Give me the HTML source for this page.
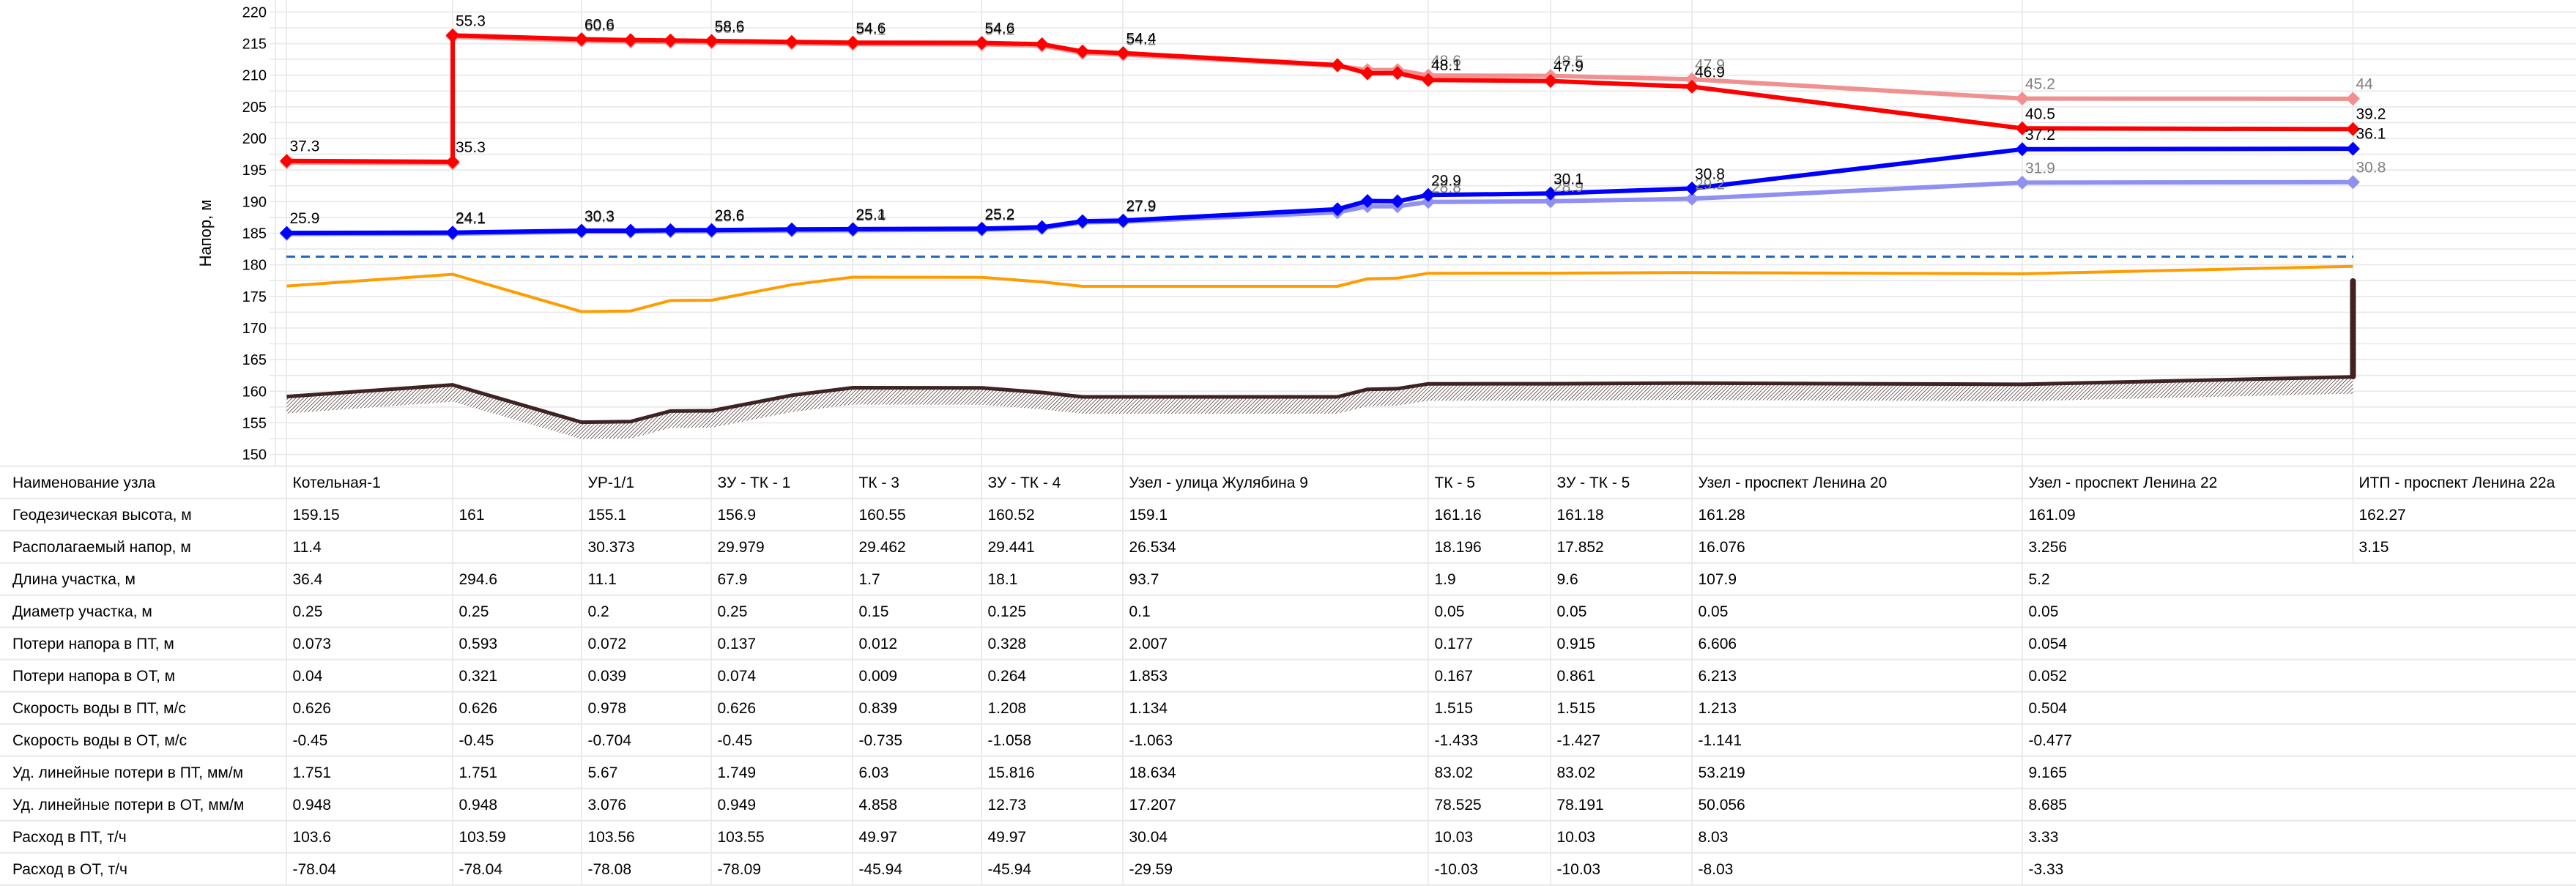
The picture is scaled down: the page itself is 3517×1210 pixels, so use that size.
<!DOCTYPE html>
<html>
<head>
<meta charset="utf-8">
<style>
html,body{margin:0;padding:0;background:#fff;}
svg{display:block;}
text{font-family:"Liberation Sans", Arial, "Noto Sans CJK SC", sans-serif;}
</style>
</head>
<body>
<svg width="3517" height="1210" viewBox="0 0 3517 1210" xmlns="http://www.w3.org/2000/svg">
<defs>
<pattern id="hatch" patternUnits="userSpaceOnUse" width="3.6" height="3.6" patternTransform="rotate(45)">
<rect width="3.6" height="3.6" fill="#ffffff"/>
<line x1="0" y1="0" x2="0" y2="3.6" stroke="#3d2222" stroke-width="1.4"/>
</pattern>
<marker id="mr" markerUnits="userSpaceOnUse" markerWidth="20" markerHeight="20" refX="10" refY="10"><path d="M10,0.5 L19.5,10 L10,19.5 L0.5,10 Z" fill="#ff0000"/></marker>
<marker id="mp" markerUnits="userSpaceOnUse" markerWidth="20" markerHeight="20" refX="10" refY="10"><path d="M10,0.5 L19.5,10 L10,19.5 L0.5,10 Z" fill="#f09090"/></marker>
<marker id="mb" markerUnits="userSpaceOnUse" markerWidth="20" markerHeight="20" refX="10" refY="10"><path d="M10,0.5 L19.5,10 L10,19.5 L0.5,10 Z" fill="#0000ff"/></marker>
<marker id="ml" markerUnits="userSpaceOnUse" markerWidth="20" markerHeight="20" refX="10" refY="10"><path d="M10,0.5 L19.5,10 L10,19.5 L0.5,10 Z" fill="#9090f0"/></marker>
</defs>

<!-- horizontal gridlines -->
<g stroke="#e8e8e8" stroke-width="1.6">
<line x1="368" y1="16.4" x2="3517" y2="16.4"/>
<line x1="368" y1="38.0" x2="3517" y2="38.0"/>
<line x1="368" y1="59.6" x2="3517" y2="59.6"/>
<line x1="368" y1="81.1" x2="3517" y2="81.1"/>
<line x1="368" y1="102.7" x2="3517" y2="102.7"/>
<line x1="368" y1="124.3" x2="3517" y2="124.3"/>
<line x1="368" y1="145.9" x2="3517" y2="145.9"/>
<line x1="368" y1="167.4" x2="3517" y2="167.4"/>
<line x1="368" y1="189.0" x2="3517" y2="189.0"/>
<line x1="368" y1="210.6" x2="3517" y2="210.6"/>
<line x1="368" y1="232.2" x2="3517" y2="232.2"/>
<line x1="368" y1="253.7" x2="3517" y2="253.7"/>
<line x1="368" y1="275.3" x2="3517" y2="275.3"/>
<line x1="368" y1="296.9" x2="3517" y2="296.9"/>
<line x1="368" y1="318.5" x2="3517" y2="318.5"/>
<line x1="368" y1="340.1" x2="3517" y2="340.1"/>
<line x1="368" y1="361.6" x2="3517" y2="361.6"/>
<line x1="368" y1="383.2" x2="3517" y2="383.2"/>
<line x1="368" y1="404.8" x2="3517" y2="404.8"/>
<line x1="368" y1="426.4" x2="3517" y2="426.4"/>
<line x1="368" y1="447.9" x2="3517" y2="447.9"/>
<line x1="368" y1="469.5" x2="3517" y2="469.5"/>
<line x1="368" y1="491.1" x2="3517" y2="491.1"/>
<line x1="368" y1="512.7" x2="3517" y2="512.7"/>
<line x1="368" y1="534.3" x2="3517" y2="534.3"/>
<line x1="368" y1="555.8" x2="3517" y2="555.8"/>
<line x1="368" y1="577.4" x2="3517" y2="577.4"/>
<line x1="368" y1="599.0" x2="3517" y2="599.0"/>
<line x1="368" y1="620.6" x2="3517" y2="620.6"/>
</g>

<!-- vertical gridlines / table separators -->
<g stroke="#e8e8e8" stroke-width="1.6">
<line x1="376" y1="0" x2="376" y2="637"/>
<line x1="391" y1="0" x2="391" y2="1209"/>
<line x1="618" y1="0" x2="618" y2="1209"/>
<line x1="794" y1="0" x2="794" y2="1209"/>
<line x1="971" y1="0" x2="971" y2="1209"/>
<line x1="1164" y1="0" x2="1164" y2="1209"/>
<line x1="1340" y1="0" x2="1340" y2="1209"/>
<line x1="1533" y1="0" x2="1533" y2="1209"/>
<line x1="1950" y1="0" x2="1950" y2="1209"/>
<line x1="2117" y1="0" x2="2117" y2="1209"/>
<line x1="2310" y1="0" x2="2310" y2="1209"/>
<line x1="2761" y1="0" x2="2761" y2="1209"/>
<line x1="3212.5" y1="0" x2="3212.5" y2="768.7"/>
</g>

<!-- table row lines -->
<g stroke="#e8e8e8" stroke-width="2">
<line x1="0" y1="636.7" x2="3517" y2="636.7"/>
<line x1="0" y1="680.7" x2="3517" y2="680.7"/>
<line x1="0" y1="724.7" x2="3517" y2="724.7"/>
<line x1="0" y1="768.7" x2="3517" y2="768.7"/>
<line x1="0" y1="812.7" x2="3517" y2="812.7"/>
<line x1="0" y1="856.7" x2="3517" y2="856.7"/>
<line x1="0" y1="900.7" x2="3517" y2="900.7"/>
<line x1="0" y1="944.7" x2="3517" y2="944.7"/>
<line x1="0" y1="988.7" x2="3517" y2="988.7"/>
<line x1="0" y1="1032.7" x2="3517" y2="1032.7"/>
<line x1="0" y1="1076.7" x2="3517" y2="1076.7"/>
<line x1="0" y1="1120.7" x2="3517" y2="1120.7"/>
<line x1="0" y1="1164.7" x2="3517" y2="1164.7"/>
<line x1="0" y1="1208.7" x2="3517" y2="1208.7"/>
</g>

<!-- y tick labels -->
<g font-size="20" fill="#000" text-anchor="end">
<text x="364" y="23.4">220</text>
<text x="364" y="66.6">215</text>
<text x="364" y="109.7">210</text>
<text x="364" y="152.9">205</text>
<text x="364" y="196.0">200</text>
<text x="364" y="239.2">195</text>
<text x="364" y="282.3">190</text>
<text x="364" y="325.5">185</text>
<text x="364" y="368.6">180</text>
<text x="364" y="411.8">175</text>
<text x="364" y="454.9">170</text>
<text x="364" y="498.1">165</text>
<text x="364" y="541.3">160</text>
<text x="364" y="584.4">155</text>
<text x="364" y="627.6">150</text>
</g>
<text transform="translate(288,318.5) rotate(-90)" text-anchor="middle" font-size="22" fill="#000">Напор, м</text>

<!-- ground hatch -->
<polygon fill="url(#hatch)" points="391.5,541.6 618,525.6 794,576.6 861,575.7 915.4,561.4 971.6,561 1081,539.8 1164.5,529.5 1340.5,529.8 1422.6,536 1478,542 1533.5,542 1826,542 1867,531.7 1908,530.8 1950,524.2 2117,524.1 2310,523.2 2761,524.9 3212.5,514.7 3212.5,537.7 2761,547.9 2310,546.2 2117,547.1 1950,547.2 1908,553.8 1867,554.7 1826,565 1533.5,565 1478,565 1422.6,559 1340.5,552.8 1164.5,552.5 1081,562.8 971.6,584 915.4,584.4 861,598.7 794,599.6 618,548.6 391.5,564.6"/>
<!-- ground line -->
<polyline fill="none" stroke="#3f2323" stroke-width="5" stroke-linejoin="round" points="391.5,541.6 618,525.6 794,576.6 861,575.7 915.4,561.4 971.6,561 1081,539.8 1164.5,529.5 1340.5,529.8 1422.6,536 1478,542 1533.5,542 1826,542 1867,531.7 1908,530.8 1950,524.2 2117,524.1 2310,523.2 2761,524.9 3212.5,514.7"/>
<line x1="3212.5" y1="384" x2="3212.5" y2="514" stroke="#42211f" stroke-width="8" stroke-linecap="round"/>

<!-- orange line -->
<polyline fill="none" stroke="#ff9c00" stroke-width="4" stroke-linejoin="round" points="391.5,390.6 618,374.6 794,425.6 861,424.7 915.4,410.4 971.6,410 1081,388.8 1164.5,378.5 1340.5,378.8 1422.6,385 1478,391 1533.5,391 1826,391 1867,380.7 1908,379.8 1950,373.2 2117,373.1 2310,372.2 2761,373.9 3212.5,363.7"/>

<!-- dashed line -->
<line x1="391" y1="350.5" x2="3213" y2="350.5" stroke="#2468bd" stroke-width="3" stroke-dasharray="12 8"/>

<!-- pink (second scenario supply) -->
<polyline fill="none" stroke="#f09090" stroke-width="6" stroke-linejoin="round" marker-start="url(#mp)" marker-mid="url(#mp)" marker-end="url(#mp)" points="391.5,221.7 618,223 618,50.3 794,55.5 861,56.8 915.4,57.2 971.6,57.9 1081,59.2 1164.5,60.3 1340.5,60.5 1422.6,62.4 1478,72.3 1533.5,74.5 1826,89.8 1867,95.6 1908,95.6 1950,103.1 2117,103.6 2310,108.3 2761,134.6 3212.5,134.9"/>
<!-- light blue (second scenario return) -->
<polyline fill="none" stroke="#9090f0" stroke-width="6" stroke-linejoin="round" marker-start="url(#ml)" marker-mid="url(#ml)" marker-end="url(#ml)" points="391.5,319.6 618,319.1 794,316.5 861,316.5 915.4,315.9 971.6,315.7 1081,314.8 1164.5,314.4 1340.5,313.8 1422.6,311.8 1478,303.6 1533.5,302.7 1826,290 1867,281.8 1908,281.8 1950,275.8 2117,274.9 2310,271.4 2761,249.4 3212.5,248.8"/>
<!-- red supply -->
<polyline fill="none" stroke="#ff0000" stroke-width="6" stroke-linejoin="round" marker-start="url(#mr)" marker-mid="url(#mr)" marker-end="url(#mr)" points="391.5,219.7 618,221 618,48.3 794,53.5 861,54.8 915.4,55.2 971.6,55.9 1081,57.2 1164.5,58.3 1340.5,58.5 1422.6,60.4 1478,70.3 1533.5,72.5 1826,88.9 1867,100.1 1908,99.7 1950,109.2 2117,110.6 2310,118.4 2761,175.3 3212.5,176.3"/>
<!-- blue return -->
<polyline fill="none" stroke="#0000ff" stroke-width="6" stroke-linejoin="round" marker-start="url(#mb)" marker-mid="url(#mb)" marker-end="url(#mb)" points="391.5,318.1 618,317.6 794,315 861,315 915.4,314.4 971.6,314.2 1081,313.3 1164.5,312.9 1340.5,312.3 1422.6,310.3 1478,302.1 1533.5,301.2 1826,285.7 1867,274.5 1908,274.9 1950,266.3 2117,264.3 2310,257.4 2761,203.8 3212.5,203.1"/>

<!-- gray labels -->
<g font-size="21" fill="#808080">
<text x="798" y="42.5">60.8</text>
<text x="975.6" y="44.9">58.5</text>
<text x="1168.5" y="47.3">54.1</text>
<text x="1344.5" y="47.5">54.2</text>
<text x="1537.5" y="61.5">54.2</text>
<text x="1954" y="90.1">48.6</text>
<text x="2121" y="90.6">48.5</text>
<text x="2314" y="95.3">47.9</text>
<text x="2765" y="121.6">45.2</text>
<text x="3216.5" y="121.4">44</text>
<text x="622" y="306.1">24.1</text>
<text x="798" y="303.5">30.3</text>
<text x="975.6" y="302.7">28.6</text>
<text x="1168.5" y="301.4">25.4</text>
<text x="1344.5" y="300.8">25.2</text>
<text x="1537.5" y="289.7">27.9</text>
<text x="1954" y="262.8">28.8</text>
<text x="2121" y="261.9">28.9</text>
<text x="2314" y="258.4">29.2</text>
<text x="2765" y="236.4">31.9</text>
<text x="3216.5" y="235.5">30.8</text>
</g>
<!-- black labels -->
<g font-size="21" fill="#000">
<text x="395.5" y="206.7">37.3</text>
<text x="622" y="208">35.3</text>
<text x="622" y="35.3">55.3</text>
<text x="798" y="40.5">60.6</text>
<text x="975.6" y="42.9">58.6</text>
<text x="1168.5" y="45.3">54.6</text>
<text x="1344.5" y="45.5">54.6</text>
<text x="1537.5" y="59.5">54.4</text>
<text x="1954" y="96.2">48.1</text>
<text x="2121" y="97.6">47.9</text>
<text x="2314" y="105.4">46.9</text>
<text x="2765" y="162.3">40.5</text>
<text x="3216.5" y="162.5">39.2</text>
<text x="395.5" y="305.1">25.9</text>
<text x="622" y="304.6">24.1</text>
<text x="798" y="302">30.3</text>
<text x="975.6" y="301.2">28.6</text>
<text x="1168.5" y="299.9">25.1</text>
<text x="1344.5" y="299.3">25.2</text>
<text x="1537.5" y="288.2">27.9</text>
<text x="1954" y="253.3">29.9</text>
<text x="2121" y="251.3">30.1</text>
<text x="2314" y="244.4">30.8</text>
<text x="2765" y="190.8">37.2</text>
<text x="3216.5" y="189.6">36.1</text>
</g>

<!-- table text -->
<g font-size="21" fill="#000">
<!-- row 0 -->
<text x="17" y="666.2">Наименование узла</text>
<text x="399.5" y="666.2">Котельная-1</text>
<text x="802.5" y="666.2">УР-1/1</text>
<text x="979.5" y="666.2">ЗУ - ТК - 1</text>
<text x="1172.5" y="666.2">ТК - 3</text>
<text x="1348.5" y="666.2">ЗУ - ТК - 4</text>
<text x="1541.5" y="666.2">Узел - улица Жулябина 9</text>
<text x="1958.5" y="666.2">ТК - 5</text>
<text x="2125.5" y="666.2">ЗУ - ТК - 5</text>
<text x="2318.5" y="666.2">Узел - проспект Ленина 20</text>
<text x="2769.5" y="666.2">Узел - проспект Ленина 22</text>
<text x="3220.5" y="666.2">ИТП - проспект Ленина 22а</text>
<!-- row 1 -->
<text x="17" y="710.2">Геодезическая высота, м</text>
<text x="399.5" y="710.2">159.15</text>
<text x="626.5" y="710.2">161</text>
<text x="802.5" y="710.2">155.1</text>
<text x="979.5" y="710.2">156.9</text>
<text x="1172.5" y="710.2">160.55</text>
<text x="1348.5" y="710.2">160.52</text>
<text x="1541.5" y="710.2">159.1</text>
<text x="1958.5" y="710.2">161.16</text>
<text x="2125.5" y="710.2">161.18</text>
<text x="2318.5" y="710.2">161.28</text>
<text x="2769.5" y="710.2">161.09</text>
<text x="3220.5" y="710.2">162.27</text>
<!-- row 2 -->
<text x="17" y="754.2">Располагаемый напор, м</text>
<text x="399.5" y="754.2">11.4</text>
<text x="802.5" y="754.2">30.373</text>
<text x="979.5" y="754.2">29.979</text>
<text x="1172.5" y="754.2">29.462</text>
<text x="1348.5" y="754.2">29.441</text>
<text x="1541.5" y="754.2">26.534</text>
<text x="1958.5" y="754.2">18.196</text>
<text x="2125.5" y="754.2">17.852</text>
<text x="2318.5" y="754.2">16.076</text>
<text x="2769.5" y="754.2">3.256</text>
<text x="3220.5" y="754.2">3.15</text>
<!-- row 3 -->
<text x="17" y="798.2">Длина участка, м</text>
<text x="399.5" y="798.2">36.4</text>
<text x="626.5" y="798.2">294.6</text>
<text x="802.5" y="798.2">11.1</text>
<text x="979.5" y="798.2">67.9</text>
<text x="1172.5" y="798.2">1.7</text>
<text x="1348.5" y="798.2">18.1</text>
<text x="1541.5" y="798.2">93.7</text>
<text x="1958.5" y="798.2">1.9</text>
<text x="2125.5" y="798.2">9.6</text>
<text x="2318.5" y="798.2">107.9</text>
<text x="2769.5" y="798.2">5.2</text>
<!-- row 4 -->
<text x="17" y="842.2">Диаметр участка, м</text>
<text x="399.5" y="842.2">0.25</text>
<text x="626.5" y="842.2">0.25</text>
<text x="802.5" y="842.2">0.2</text>
<text x="979.5" y="842.2">0.25</text>
<text x="1172.5" y="842.2">0.15</text>
<text x="1348.5" y="842.2">0.125</text>
<text x="1541.5" y="842.2">0.1</text>
<text x="1958.5" y="842.2">0.05</text>
<text x="2125.5" y="842.2">0.05</text>
<text x="2318.5" y="842.2">0.05</text>
<text x="2769.5" y="842.2">0.05</text>
<!-- row 5 -->
<text x="17" y="886.2">Потери напора в ПТ, м</text>
<text x="399.5" y="886.2">0.073</text>
<text x="626.5" y="886.2">0.593</text>
<text x="802.5" y="886.2">0.072</text>
<text x="979.5" y="886.2">0.137</text>
<text x="1172.5" y="886.2">0.012</text>
<text x="1348.5" y="886.2">0.328</text>
<text x="1541.5" y="886.2">2.007</text>
<text x="1958.5" y="886.2">0.177</text>
<text x="2125.5" y="886.2">0.915</text>
<text x="2318.5" y="886.2">6.606</text>
<text x="2769.5" y="886.2">0.054</text>
<!-- row 6 -->
<text x="17" y="930.2">Потери напора в ОТ, м</text>
<text x="399.5" y="930.2">0.04</text>
<text x="626.5" y="930.2">0.321</text>
<text x="802.5" y="930.2">0.039</text>
<text x="979.5" y="930.2">0.074</text>
<text x="1172.5" y="930.2">0.009</text>
<text x="1348.5" y="930.2">0.264</text>
<text x="1541.5" y="930.2">1.853</text>
<text x="1958.5" y="930.2">0.167</text>
<text x="2125.5" y="930.2">0.861</text>
<text x="2318.5" y="930.2">6.213</text>
<text x="2769.5" y="930.2">0.052</text>
<!-- row 7 -->
<text x="17" y="974.2">Скорость воды в ПТ, м/с</text>
<text x="399.5" y="974.2">0.626</text>
<text x="626.5" y="974.2">0.626</text>
<text x="802.5" y="974.2">0.978</text>
<text x="979.5" y="974.2">0.626</text>
<text x="1172.5" y="974.2">0.839</text>
<text x="1348.5" y="974.2">1.208</text>
<text x="1541.5" y="974.2">1.134</text>
<text x="1958.5" y="974.2">1.515</text>
<text x="2125.5" y="974.2">1.515</text>
<text x="2318.5" y="974.2">1.213</text>
<text x="2769.5" y="974.2">0.504</text>
<!-- row 8 -->
<text x="17" y="1018.2">Скорость воды в ОТ, м/с</text>
<text x="399.5" y="1018.2">-0.45</text>
<text x="626.5" y="1018.2">-0.45</text>
<text x="802.5" y="1018.2">-0.704</text>
<text x="979.5" y="1018.2">-0.45</text>
<text x="1172.5" y="1018.2">-0.735</text>
<text x="1348.5" y="1018.2">-1.058</text>
<text x="1541.5" y="1018.2">-1.063</text>
<text x="1958.5" y="1018.2">-1.433</text>
<text x="2125.5" y="1018.2">-1.427</text>
<text x="2318.5" y="1018.2">-1.141</text>
<text x="2769.5" y="1018.2">-0.477</text>
<!-- row 9 -->
<text x="17" y="1062.2">Уд. линейные потери в ПТ, мм/м</text>
<text x="399.5" y="1062.2">1.751</text>
<text x="626.5" y="1062.2">1.751</text>
<text x="802.5" y="1062.2">5.67</text>
<text x="979.5" y="1062.2">1.749</text>
<text x="1172.5" y="1062.2">6.03</text>
<text x="1348.5" y="1062.2">15.816</text>
<text x="1541.5" y="1062.2">18.634</text>
<text x="1958.5" y="1062.2">83.02</text>
<text x="2125.5" y="1062.2">83.02</text>
<text x="2318.5" y="1062.2">53.219</text>
<text x="2769.5" y="1062.2">9.165</text>
<!-- row 10 -->
<text x="17" y="1106.2">Уд. линейные потери в ОТ, мм/м</text>
<text x="399.5" y="1106.2">0.948</text>
<text x="626.5" y="1106.2">0.948</text>
<text x="802.5" y="1106.2">3.076</text>
<text x="979.5" y="1106.2">0.949</text>
<text x="1172.5" y="1106.2">4.858</text>
<text x="1348.5" y="1106.2">12.73</text>
<text x="1541.5" y="1106.2">17.207</text>
<text x="1958.5" y="1106.2">78.525</text>
<text x="2125.5" y="1106.2">78.191</text>
<text x="2318.5" y="1106.2">50.056</text>
<text x="2769.5" y="1106.2">8.685</text>
<!-- row 11 -->
<text x="17" y="1150.2">Расход в ПТ, т/ч</text>
<text x="399.5" y="1150.2">103.6</text>
<text x="626.5" y="1150.2">103.59</text>
<text x="802.5" y="1150.2">103.56</text>
<text x="979.5" y="1150.2">103.55</text>
<text x="1172.5" y="1150.2">49.97</text>
<text x="1348.5" y="1150.2">49.97</text>
<text x="1541.5" y="1150.2">30.04</text>
<text x="1958.5" y="1150.2">10.03</text>
<text x="2125.5" y="1150.2">10.03</text>
<text x="2318.5" y="1150.2">8.03</text>
<text x="2769.5" y="1150.2">3.33</text>
<!-- row 12 -->
<text x="17" y="1194.2">Расход в ОТ, т/ч</text>
<text x="399.5" y="1194.2">-78.04</text>
<text x="626.5" y="1194.2">-78.04</text>
<text x="802.5" y="1194.2">-78.08</text>
<text x="979.5" y="1194.2">-78.09</text>
<text x="1172.5" y="1194.2">-45.94</text>
<text x="1348.5" y="1194.2">-45.94</text>
<text x="1541.5" y="1194.2">-29.59</text>
<text x="1958.5" y="1194.2">-10.03</text>
<text x="2125.5" y="1194.2">-10.03</text>
<text x="2318.5" y="1194.2">-8.03</text>
<text x="2769.5" y="1194.2">-3.33</text>
</g>
</svg>
</body>
</html>
